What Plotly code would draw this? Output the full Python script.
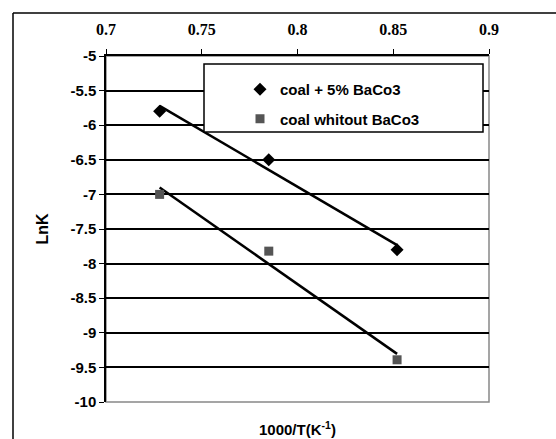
import numpy as np
import plotly.graph_objects as go

# Data
x_vals = [0.728, 0.785, 0.852]
y_with = [-5.8, -6.5, -7.8]          # coal + 5% BaCo3
y_without = [-7.0, -7.82, -9.39]     # coal whitout BaCo3
names = ["coal + 5% BaCo3", "coal whitout BaCo3"]
x_ticks = [0.7, 0.75, 0.8, 0.85, 0.9]
y_ticks = [-5, -5.5, -6, -6.5, -7, -7.5, -8, -8.5, -9, -9.5, -10]

W, H = 556, 439
L, R, T, B = 106, 67, 56, 37
PW, PH = W - L - R, H - T - B


def px(xp):
    return (xp - L) / PW


def py(yp):
    return 1 - (yp - T) / PH


fig = go.Figure()

xs = np.array(x_vals)
for ys in (y_with, y_without):
    k, b = np.polyfit(xs, np.array(ys), 1)
    xx = np.array([xs.min(), xs.max()])
    fig.add_trace(go.Scatter(x=xx, y=k * xx + b, mode="lines",
                             line=dict(color="black", width=2.5),
                             showlegend=False, hoverinfo="skip"))

fig.add_trace(go.Scatter(x=x_vals, y=y_with, mode="markers", name=names[0],
                         legendgroup="a",
                         marker=dict(symbol="diamond", size=10, color="black")))
fig.add_trace(go.Scatter(x=x_vals, y=y_without, mode="markers", name=names[1],
                         legendgroup="b",
                         marker=dict(symbol="square", size=9, color="#555555")))

# plot area border (gray)
fig.add_shape(type="rect", xref="x domain", yref="y domain", x0=0, x1=1, y0=0, y1=1,
              line=dict(color="#888888", width=1.5), layer="below")
# legend box (white, covers gridlines)
fig.add_shape(type="rect", xref="x domain", yref="y domain",
              x0=px(204), x1=px(483), y0=py(132), y1=py(64),
              line=dict(color="black", width=1.5), fillcolor="white",
              opacity=1, layer="above")
# outer frame (top and left edges)
fig.add_shape(type="line", xref="paper", yref="paper",
              x0=px(13), x1=px(W + 5), y0=py(13), y1=py(13),
              line=dict(color="black", width=1.5))
fig.add_shape(type="line", xref="paper", yref="paper",
              x0=px(13), x1=px(13), y0=py(13), y1=py(H + 5),
              line=dict(color="black", width=1.5))

fig.update_layout(
    width=W, height=H,
    margin=dict(l=L, r=R, t=T, b=B),
    paper_bgcolor="white", plot_bgcolor="white",
    showlegend=True,
    legend=dict(x=px(240), y=py(73),
                xanchor="left", yanchor="top",
                bgcolor="rgba(0,0,0,0)", borderwidth=0,
                font=dict(family="Arial, Liberation Sans", size=15, color="black", weight="bold"),
                itemwidth=30, tracegroupgap=7),
    font=dict(family="Arial, Liberation Sans", color="black"),
)

fig.update_xaxes(
    range=[0.7, 0.9], side="top", tickvals=x_ticks,
    ticktext=[str(v) for v in x_ticks],
    tickfont=dict(family="Liberation Serif, Times New Roman", size=16, weight="bold"),
    ticklabelstandoff=8,
    showgrid=False, showline=True, linecolor="black", linewidth=1.5,
    ticks="outside", ticklen=5, tickcolor="black", zeroline=False,
    title=None,
)
fig.update_yaxes(
    range=[-10, -5], tickvals=y_ticks, ticktext=[str(v) for v in y_ticks],
    tickfont=dict(family="Arial, Liberation Sans", size=15, weight="bold"),
    showgrid=True, gridcolor="black", gridwidth=1.5,
    showline=True, linecolor="black", linewidth=1.5,
    ticks="outside", ticklen=5, tickcolor="black", zeroline=False,
    title=dict(text="LnK", font=dict(family="Arial, Liberation Sans", size=16, weight="bold"), standoff=18),
)

fig.add_annotation(xref="paper", yref="paper", x=0.5, y=py(428),
                   text="1000/T(K<sup>-1</sup>)", showarrow=False,
                   font=dict(family="Arial, Liberation Sans", size=15, weight="bold"),
                   xanchor="center", yanchor="middle")

fig.write_html("out.html")
